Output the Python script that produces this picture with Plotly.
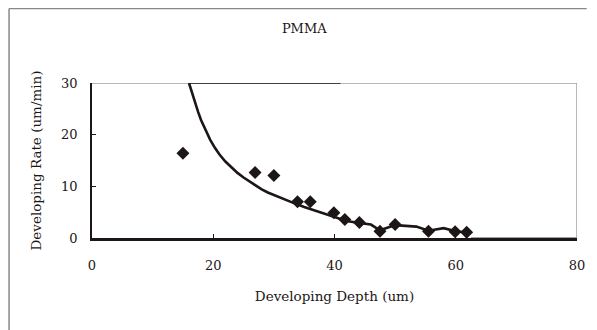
import plotly.graph_objects as go

# measured points (diamonds)
depth_pts = [15.0, 26.9, 30.0, 33.9, 36.0, 39.9, 41.7, 44.1, 47.5, 50.0, 55.5, 59.9, 61.8]
rate_pts = [16.4, 12.7, 12.1, 7.0, 7.0, 4.9, 3.6, 3.0, 1.3, 2.6, 1.3, 1.2, 1.1]

# simulated curve
depth_curve = [16.0, 16.5, 17.0, 17.5, 18.0, 18.8, 19.5, 20.3, 21.0, 22.0, 23.0, 24.0, 25.0, 26.0,
               27.0, 28.0, 29.0, 30.0, 31.5, 33.0, 35.0, 37.0, 38.5, 40.0, 42.0, 44.1, 46.0, 47.5,
               50.0, 53.5, 55.5, 58.0, 60.0, 62.0]
rate_curve = [30.0, 28.0, 26.2, 24.4, 22.8, 20.7, 19.0, 17.4, 16.2, 14.8, 13.6, 12.6, 11.7, 10.9,
              10.1, 9.4, 8.8, 8.3, 7.6, 6.9, 6.0, 5.2, 4.6, 4.0, 3.3, 2.9, 2.6, 1.5,
              2.5, 2.2, 1.4, 1.9, 1.3, 1.0]

x_ticks = [0, 20, 40, 60, 80]
y_ticks = [0, 10, 20, 30]

ink = "#1c1616"
font = "DejaVu Serif"

fig = go.Figure()
fig.add_trace(go.Scatter(x=depth_curve, y=rate_curve, mode="lines",
                         line=dict(color=ink, width=2.6),
                         showlegend=False))
fig.add_trace(go.Scatter(x=depth_pts, y=rate_pts, mode="markers",
                         marker=dict(symbol="diamond", size=10, color=ink),
                         showlegend=False))

# plot frame: grey top/right, black partial top segment
fig.add_shape(type="line", xref="x", yref="y", x0=0, x1=80, y0=30, y1=30,
              line=dict(color="#a0a0a0", width=1.5), layer="below")
fig.add_shape(type="line", xref="x", yref="y", x0=80, x1=80, y0=0, y1=30,
              line=dict(color="#a0a0a0", width=1.5), layer="below")
fig.add_shape(type="line", xref="x", yref="y", x0=16, x1=41, y0=30, y1=30,
              line=dict(color=ink, width=1.5))
fig.add_shape(type="line", xref="x", yref="y", x0=62.5, x1=80, y0=0, y1=0,
              line=dict(color="#a0a0a0", width=2))
# outer chart border (left and top)
fig.add_shape(type="line", xref="paper", yref="paper", x0=-0.171, x1=-0.171, y0=-0.6, y1=1.48,
              line=dict(color="#888", width=1.5))
fig.add_shape(type="line", xref="paper", yref="paper", x0=-0.171, x1=1.02, y0=1.48, y1=1.48,
              line=dict(color="#888", width=1.5))

fig.update_layout(
    width=589, height=322,
    margin=dict(l=84, r=20, t=75, b=92),
    paper_bgcolor="white", plot_bgcolor="white",
    font=dict(family=font, color=ink, size=13),
    title=dict(text="PMMA", x=0.503, xanchor="center", y=0.937, yanchor="middle",
               font=dict(family=font, size=13, color=ink)),
    xaxis=dict(range=[0, 80], tickvals=x_ticks, ticktext=[str(v) for v in x_ticks],
               showgrid=False, zeroline=False, showline=True, linecolor=ink, linewidth=2.5,
               ticks="inside", ticklen=4, tickcolor=ink, ticklabelstandoff=14,
               title=dict(text="Developing Depth (um)", standoff=20,
                          font=dict(family=font, size=13.5))),
    yaxis=dict(range=[0, 30], tickvals=y_ticks, ticktext=[str(v) for v in y_ticks],
               showgrid=False, zeroline=False, showline=True, linecolor=ink, linewidth=1.5,
               ticks="inside", ticklen=4, tickcolor=ink, ticklabelstandoff=10,
               title=dict(text="Developing Rate (um/min)", standoff=16,
                          font=dict(family=font, size=13.5))),
)

fig.write_html("out.html")
